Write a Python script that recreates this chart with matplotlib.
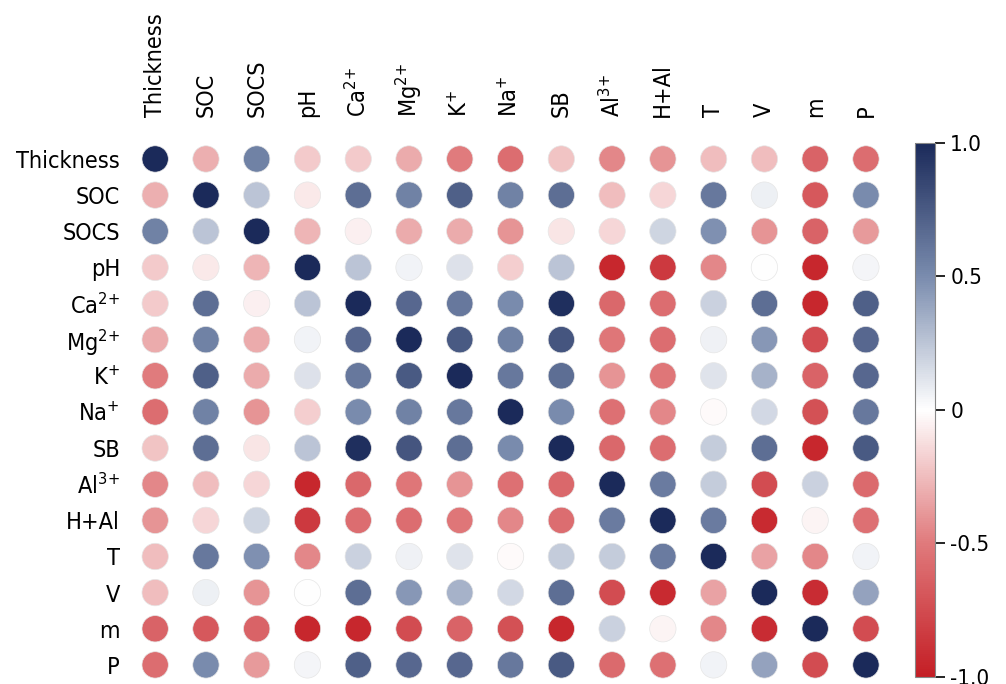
import numpy as np
import matplotlib
matplotlib.use("Agg")
from matplotlib import pyplot as plt
from matplotlib.colors import LinearSegmentedColormap

labels = ["Thickness", "SOC", "SOCS", "pH", r"Ca$^{2\!+}$", r"Mg$^{2\!+}$", r"K$^{+}$",
          r"Na$^{+}$", "SB", r"Al$^{3\!+}$", "H+Al", "T", "V", "m", "P"]

# upper triangle, row by row (values right of the diagonal)
upper = [
    [-0.30, 0.55, -0.20, -0.20, -0.32, -0.50, -0.57, -0.22, -0.45, -0.40, -0.25, -0.25, -0.62, -0.57],
    [0.25, -0.08, 0.65, 0.55, 0.72, 0.55, 0.65, -0.25, -0.15, 0.60, 0.07, -0.68, 0.50],
    [-0.28, -0.06, -0.32, -0.32, -0.40, -0.10, -0.15, 0.18, 0.48, -0.40, -0.62, -0.38],
    [0.25, 0.05, 0.13, -0.18, 0.25, -0.95, -0.85, -0.45, 0.0, -0.95, 0.04],
    [0.68, 0.60, 0.50, 0.97, -0.60, -0.57, 0.20, 0.65, -0.95, 0.72],
    [0.75, 0.55, 0.78, -0.52, -0.57, 0.06, 0.45, -0.75, 0.68],
    [0.60, 0.65, -0.40, -0.52, 0.12, 0.33, -0.62, 0.68],
    [0.50, -0.55, -0.45, -0.02, 0.17, -0.72, 0.60],
    [-0.60, -0.57, 0.22, 0.65, -0.95, 0.75],
    [0.58, 0.22, -0.75, 0.20, -0.58],
    [0.58, -0.93, -0.04, -0.55],
    [-0.35, -0.45, 0.05],
    [-0.92, 0.40],
    [-0.75],
]

n = len(labels)
corr = np.eye(n)
for i, row in enumerate(upper):
    for k, v in enumerate(row):
        j = i + 1 + k
        corr[i, j] = v
        corr[j, i] = v

cmap = LinearSegmentedColormap.from_list(
    "rwb", [(0.0, "#C41E25"), (0.25, "#E07A7C"), (0.5, "#FFFFFF"),
            (0.75, "#7A8CAE"), (1.0, "#1B2A5A")])

plt.rcParams["font.stretch"] = "condensed"
plt.rcParams["mathtext.fontset"] = "custom"
plt.rcParams["mathtext.rm"] = "DejaVu Sans:stretch=condensed"
plt.rcParams["mathtext.it"] = "DejaVu Sans:stretch=condensed"
plt.rcParams["mathtext.bf"] = "DejaVu Sans:stretch=condensed:bold"

fig = plt.figure(figsize=(10.06, 6.84), dpi=100)
ax = fig.add_axes([0.129, 0.0015, 0.757, 0.7925])

yy, xx = np.mgrid[0:n, 0:n]
sc = ax.scatter(xx.ravel(), yy.ravel(), c=corr.ravel(), cmap=cmap, vmin=-1, vmax=1,
                s=360, edgecolors="#e6e6e6", linewidths=0.5)

ax.set_xlim(-0.5, n - 0.5)
ax.set_ylim(n - 0.5, -0.5)
for s in ax.spines.values():
    s.set_visible(False)
ax.set_xticks(range(n))
ax.set_yticks(range(n))
ax.set_xticklabels(labels, rotation=90, fontsize=16.8)
ax.set_yticklabels(labels, fontsize=16.8)
ax.xaxis.tick_top()
ax.tick_params(axis="x", length=0, pad=17)
ax.tick_params(axis="y", length=0, pad=7)

cax = fig.add_axes([0.9095, 0.0102, 0.0199, 0.781])
cb = fig.colorbar(sc, cax=cax)
cb.set_ticks([-1, -0.5, 0, 0.5, 1])
cb.set_ticklabels(["-1.0", "-0.5", "0", "0.5", "1.0"])
cb.ax.tick_params(labelsize=16, length=7, width=1.2, pad=4)
cb.outline.set_edgecolor("#888888")
cb.outline.set_linewidth(0.8)

fig.savefig("out.png", dpi=100)
